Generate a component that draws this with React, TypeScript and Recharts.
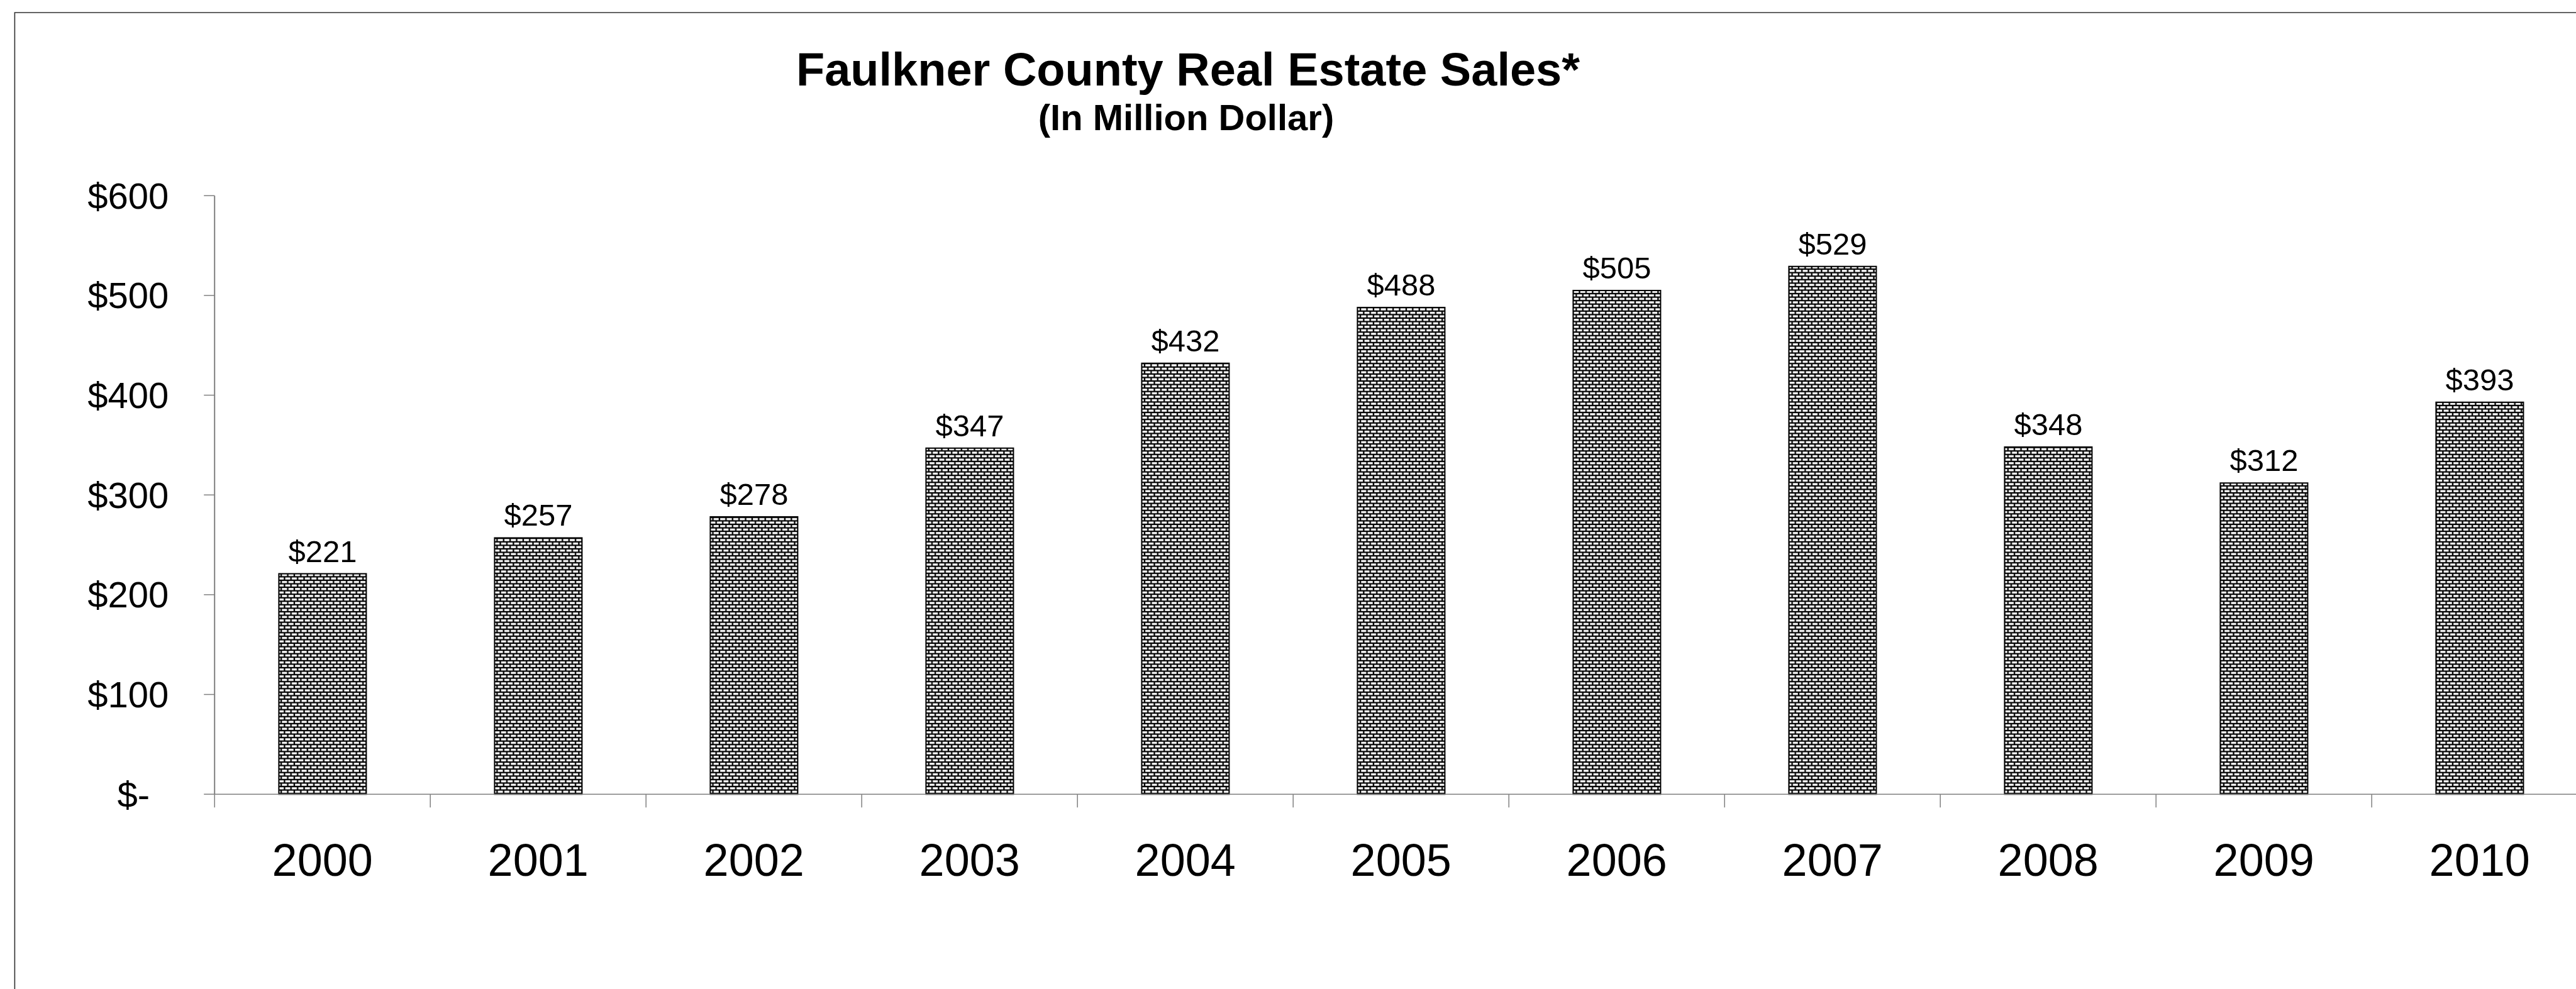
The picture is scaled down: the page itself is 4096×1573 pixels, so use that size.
import React from 'react';
import { BarChart, Bar, XAxis, YAxis, LabelList } from 'recharts';

const years = ['2000', '2001', '2002', '2003', '2004', '2005', '2006', '2007', '2008', '2009', '2010'];
const sales = [221, 257, 278, 347, 432, 488, 505, 529, 348, 312, 393];
const yTicks = [0, 100, 200, 300, 400, 500, 600];
const titleText = 'Faulkner County Real Estate Sales*';
const subtitleText = '(In Million Dollar)';

const data = years.map((y, i) => ({ year: y, value: sales[i] }));

const FONT = '"Liberation Sans", Arial, Helvetica, sans-serif';
const AXIS = '#808080';

const YTick = (props: any) => {
  const { x, y, payload } = props;
  const v = payload.value;
  const label = v === 0 ? '$-' : `$${v}`;
  return (
    <text x={v === 0 ? x - 30 : x} y={y} dy="0.355em" textAnchor="end" fontSize={58} fontFamily={FONT} fill="#000">
      {label}
    </text>
  );
};

const XTick = (props: any) => {
  const { x, y, payload, index, width, visibleTicksCount } = props;
  let half = payload && typeof payload.offset === 'number' && payload.offset > 0 ? payload.offset : 0;
  if (!half && width && visibleTicksCount) half = width / (2 * visibleTicksCount);
  const last = index === (visibleTicksCount ? visibleTicksCount - 1 : years.length - 1);
  return (
    <g>
      <line x1={x - half} x2={x - half} y1={y} y2={y + 21} stroke={AXIS} strokeWidth={1.5} />
      {last && <line x1={x + half} x2={x + half} y1={y} y2={y + 21} stroke={AXIS} strokeWidth={1.5} />}
      <text x={x} y={y + 130} textAnchor="middle" fontSize={72} fontFamily={FONT} fill="#000">
        {payload.value}
      </text>
    </g>
  );
};

export default function App() {
  const chartW = 4140;
  const chartH = 1573;
  const plotTop = 311.2;
  const plotBottom = 1263.2;
  const plotLeft = 341.2;
  const plotRight = 4114.2;
  const xAxisH = 150;
  return (
    <div style={{ position: 'absolute', left: 0, top: 0, width: 4096, height: 1573, overflow: 'hidden', background: '#fff' }}>
      <svg width={4096} height={1573} style={{ position: 'absolute', left: 0, top: 0 }}>
        <defs>
          <pattern id="brick" patternUnits="userSpaceOnUse" width={10.4} height={11.12}>
            <rect x={0} y={0} width={10.4} height={11.12} fill="#000" />
            <rect x={1.1} y={1.1} width={8.1} height={3.3} fill="#fff" />
            <rect x={-4.1} y={6.66} width={8.1} height={3.3} fill="#fff" />
            <rect x={6.3} y={6.66} width={8.1} height={3.3} fill="#fff" />
          </pattern>
        </defs>
        <path d="M23.4,1573 L23.4,20 L4096,20" fill="none" stroke="#303030" strokeWidth={1.6} />
        <text x={1889} y={136} textAnchor="middle" fontSize={74} fontWeight="bold" fontFamily={FONT} fill="#000">
          {titleText}
        </text>
        <text x={1886} y={207} textAnchor="middle" fontSize={58} fontWeight="bold" fontFamily={FONT} fill="#000">
          {subtitleText}
        </text>
      </svg>
      <div style={{ position: 'absolute', left: 0, top: 0 }}>
        <BarChart
          width={chartW}
          height={chartH}
          data={data}
          margin={{ top: plotTop, right: chartW - plotRight, bottom: chartH - plotBottom - xAxisH, left: 0 }}
          barCategoryGap="29.8%"
        >
          <XAxis
            dataKey="year"
            type="category"
            interval={0}
            height={xAxisH}
            axisLine={{ stroke: AXIS, strokeWidth: 1.5 }}
            tickLine={false}
            tickSize={0}
            tickMargin={0}
            tick={<XTick />}
          />
          <YAxis
            type="number"
            domain={[0, 600]}
            ticks={yTicks}
            interval={0}
            width={plotLeft}
            axisLine={{ stroke: AXIS, strokeWidth: 2 }}
            tickLine={{ stroke: AXIS, strokeWidth: 1.5 }}
            tickSize={17}
            tickMargin={56}
            tick={<YTick />}
          />
          <Bar dataKey="value" fill="url(#brick)" stroke="#000" strokeWidth={2} isAnimationActive={false}>
            <LabelList
              dataKey="value"
              position="top"
              offset={19}
              formatter={(v: any) => `$${v}`}
              fontSize={49}
              fontFamily={FONT}
              fill="#000"
            />
          </Bar>
        </BarChart>
      </div>
    </div>
  );
}
